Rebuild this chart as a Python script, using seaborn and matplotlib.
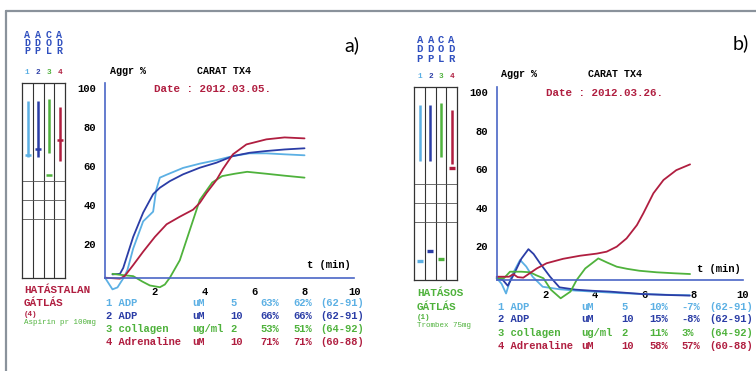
import numpy as np
import pandas as pd
import matplotlib
matplotlib.use("Agg")
import matplotlib.pyplot as plt
import seaborn as sns
from matplotlib.lines import Line2D
from matplotlib.transforms import ScaledTranslation

# ---------------- data ----------------
series = ["1 ADP 5", "2 ADP 10", "3 collagen", "4 Adrenaline"]
colors = ["#5cb0e4", "#2b3da6", "#4fb23c", "#b01e40"]

# panel a (2012.03.05) curves: time (min), aggregation (%)
a_t1 = [0, 0.3, 0.5, 0.75, 0.9, 1.13, 1.53, 1.93, 2.05, 2.2, 2.47, 3.13, 3.8, 4.47, 5.13, 5.8, 6.47, 7.2, 8.0]
a_v1 = [0, -6, -5, 0, 4, 15, 29, 34, 45, 51.5, 53, 56.5, 58.7, 60.5, 62.6, 64, 64, 63.5, 63]
a_t2 = [0.3, 0.6, 0.73, 1.13, 1.53, 1.93, 2.2, 2.6, 3.13, 3.8, 4.47, 5.13, 5.8, 6.47, 7.2, 8.0]
a_v2 = [1.7, 2, 5, 21, 33.5, 43, 46.3, 49.7, 53.2, 56.6, 59.2, 62.6, 64.3, 65.2, 66, 66.6]
a_t3 = [0.3, 0.6, 1.13, 1.5, 1.8, 2.2, 2.4, 2.6, 3.0, 3.4, 3.8, 4.3, 4.7, 5.2, 5.7, 6.47, 7.2, 8.0]
a_v3 = [2, 1.5, 0.8, -2, -4, -4.9, -3.5, 0, 9, 24.5, 40, 49, 52.3, 53.5, 54.5, 53.5, 52.5, 51.5]
a_t4 = [0, 0.6, 0.8, 1.13, 1.53, 2.0, 2.47, 3.0, 3.53, 3.8, 4.07, 4.47, 4.73, 5.13, 5.67, 6.47, 7.2, 8.0]
a_v4 = [0, -0.5, 1, 6.5, 13.4, 21, 27.5, 31.4, 35, 38.5, 43.6, 50.3, 56, 63.5, 68.6, 71.2, 72.2, 71.7]

# panel b (2012.03.26) curves
b_t1 = [0, 0.2, 0.38, 0.6, 0.95, 1.2, 1.46, 1.87, 2.55, 3.2, 3.9, 5.0, 6.0, 7.0, 7.85]
b_v1 = [1, -2, -7, 2, 10.4, 7, 1.7, -3.5, -4.8, -5.5, -6, -6.8, -7.3, -7.7, -7.9]
b_t2 = [0, 0.25, 0.45, 0.7, 1.0, 1.29, 1.5, 1.76, 2.17, 2.55, 3.2, 3.9, 4.57, 5.93, 7.0, 7.85]
b_v2 = [1, 0, -3, 3, 11, 16, 13.5, 8.7, 1.7, -3.8, -5, -5.6, -6, -7.3, -7.8, -8.1]
b_t3 = [0, 0.3, 0.54, 1.0, 1.36, 1.6, 1.9, 2.2, 2.6, 3.0, 3.25, 3.6, 4.13, 4.5, 4.88, 5.3, 5.8, 6.5, 7.2, 7.86]
b_v3 = [1, 1, 4.3, 4.3, 4, 2.5, 0.9, -5, -9.5, -6, 0, 6, 11.2, 9, 6.9, 5.8, 4.8, 4, 3.5, 3.1]
b_t4 = [0, 0.5, 0.68, 0.85, 1.08, 1.63, 2.03, 2.7, 3.39, 4.07, 4.47, 4.88, 5.28, 5.7, 5.96, 6.37, 6.78, 7.3, 7.86]
b_v4 = [1.7, 1.7, 3, 1.5, 1.2, 6, 8.7, 11, 12.6, 13.7, 14.7, 17.3, 21.6, 28.5, 34.6, 45, 51.9, 57, 60]

# reference ranges and results (side boxes)
range_lo = [62, 62, 64, 60]
range_hi = [91, 91, 92, 88]
marks_a = [63, 66, 53, 71]
marks_b = [10, 15, 11, 58]
box_rows = [30, 40, 50]

# result tables
tab_idx = ["1", "2", "3", "4"]
tab_agent = ["ADP", "ADP", "collagen", "Adrenaline"]
tab_unit = ["uM", "uM", "ug/ml", "uM"]
tab_conc = ["5", "10", "2", "10"]
a_max = ["63%", "66%", "53%", "71%"]
a_end = ["62%", "66%", "51%", "71%"]
b_max = ["10%", "15%", "11%", "58%"]
b_end = ["-7%", "-8%", "3%", "57%"]
ranges = ["(62-91)", "(62-91)", "(64-92)", "(60-88)"]

head_cols = ["ADP", "ADP", "COL", "ADR"]
xticks = list(range(0, 11))
xlabels = ["", "", "2", "", "4", "", "6", "", "8", "", "10"]
yticks = list(range(0, 101, 10))
ylabels = ["", "", "20", "", "40", "", "60", "", "80", "", "100"]

# ---------------- figure ----------------
sns.set_theme(style="white")
W, H = 756, 371
fig = plt.figure(figsize=(W / 100, H / 100), dpi=100)
fig.patch.set_facecolor("white")
MONO = ["Liberation Mono", "DejaVu Sans Mono"]
AXBLUE = "#4a66c6"
HEADBLUE = "#2f4fbf"


def fx(x):
    return x / W


def fy(y):
    return 1 - y / H


def txt(x, y, s, color="black", size=7.4, weight="bold", ha="left", family=MONO, ls=1.2):
    fig.text(fx(x), fy(y), s, color=color, fontsize=size, fontweight=weight,
             ha=ha, va="center", family=family, linespacing=ls)


# frame lines
fig.add_artist(Line2D([fx(6), fx(756)], [fy(11), fy(11)], color="#8a929b", lw=1.6))
fig.add_artist(Line2D([fx(6), fx(6)], [fy(11), fy(371)], color="#8a929b", lw=1.6))


def make_panel(X0, SX, Y0, SY, t_list, v_list, xpad):
    xl = (-0.5, 10.6)
    yl = (-12, 103)
    left = X0 + xl[0] * SX
    right = X0 + xl[1] * SX
    bottom = Y0 - yl[0] * SY
    top = Y0 - yl[1] * SY
    ax = fig.add_axes([fx(left), fy(bottom), (right - left) / W, (bottom - top) / H])
    ax.set_xlim(*xl)
    ax.set_ylim(*yl)
    ax.patch.set_alpha(0)
    frames = []
    for name, t, v in zip(series, t_list, v_list):
        frames.append(pd.DataFrame({"t": t, "v": v, "series": name}))
    df = pd.concat(frames, ignore_index=True)
    sns.lineplot(data=df, x="t", y="v", hue="series", palette=dict(zip(series, colors)),
                 sort=False, estimator=None, legend=False, lw=1.3, ax=ax)
    for s in ["top", "right"]:
        ax.spines[s].set_visible(False)
    for s in ["left", "bottom"]:
        ax.spines[s].set_position(("data", 0))
        ax.spines[s].set_color(AXBLUE)
        ax.spines[s].set_linewidth(1.2)
    ax.spines["left"].set_bounds(0, 100)
    ax.spines["bottom"].set_bounds(0, 10)
    ax.set_xticks(xticks)
    ax.set_xticklabels(xlabels)
    ax.set_yticks(yticks)
    ax.set_yticklabels(ylabels)
    ax.tick_params(direction="inout", length=7, width=1.1, color=AXBLUE,
                   labelsize=7.6, labelcolor="black")
    ax.tick_params(axis="y", pad=3)
    ax.tick_params(axis="x", pad=xpad)
    for lab in ax.get_xticklabels() + ax.get_yticklabels():
        lab.set_family(MONO)
        lab.set_fontweight("bold")
    off = ScaledTranslation(0, -0.05, fig.dpi_scale_trans)
    for lab in ax.get_yticklabels():
        lab.set_transform(lab.get_transform() + off)
    ax.set_xlabel("")
    ax.set_ylabel("")
    ax.grid(False)
    return ax


def make_box(xl_px, xr_px, Y0, SY, marks, thick):
    top = Y0 - 100 * SY
    bx = fig.add_axes([fx(xl_px), fy(Y0), (xr_px - xl_px) / W, (Y0 - top) / H])
    bx.set_xlim(0, 4)
    bx.set_ylim(0, 100)
    bx.set_xticks([])
    bx.set_yticks([])
    for s in bx.spines.values():
        s.set_color("#333333")
        s.set_linewidth(0.9)
    for c in [1, 2, 3]:
        bx.axvline(c, color="#333333", lw=0.8)
    for r in box_rows:
        bx.axhline(r, color="#555555", lw=0.6)
    xs = np.arange(4) + 0.5
    bx.vlines(xs, range_lo, range_hi, colors=colors, lw=1.8)
    bx.hlines(marks, xs - 0.27, xs + 0.27, colors=colors, lw=thick)
    return bx


# ---------------- panel a ----------------
axA = make_panel(105, 24.94, 277.7, 1.943, [a_t1, a_t2, a_t3, a_t4], [a_v1, a_v2, a_v3, a_v4], 3)
make_box(22.3, 65, 277.7, 1.943, marks_a, 1.8)

# ---------------- panel b ----------------
axB = make_panel(496.7, 24.6, 280, 1.927, [b_t1, b_t2, b_t3, b_t4], [b_v1, b_v2, b_v3, b_v4], 4)
make_box(414.3, 457, 280, 1.927, marks_b, 2.4)

# header letters (one stacked text per column)
a_colx = [27.3, 37.8, 48.7, 59.5]
b_colx = [419.8, 430.7, 441.0, 451.5]
for cx_a, cx_b, word, col, num in zip(a_colx, b_colx, head_cols, colors, tab_idx):
    stacked = "\n".join(word)
    txt(cx_a, 43.0, stacked, color=HEADBLUE, size=7.2, ha="center", ls=0.8)
    txt(cx_b, 49.5, stacked, color=HEADBLUE, size=7.6, ha="center", ls=0.92)
    txt(cx_a, 72.7, num, color=col, size=5.6, ha="center")
    txt(cx_b, 76, num, color=col, size=5.6, ha="center")

# titles
txt(110, 71, "Aggr %", size=7.2)
txt(197, 71, "CARAT TX4", size=7.2)
txt(154, 89, "Date : 2012.03.05.", color=colors[3], size=7.8)
txt(501, 74, "Aggr %", size=7.2)
txt(588, 74, "CARAT TX4", size=7.2)
txt(546, 93, "Date : 2012.03.26.", color=colors[3], size=7.8)

txt(344, 45, "a)", size=14, weight="normal", family=["Lato", "DejaVu Sans"])
txt(733, 43, "b)", size=14, weight="normal", family=["Lato", "DejaVu Sans"])

txt(307, 265, "t (min)", size=7.6)
txt(697, 269, "t (min)", size=7.6)

# side labels
txt(24, 290, "HATÁSTALAN", color=colors[3], size=7.9)
txt(24, 303, "GÁTLÁS", color=colors[3], size=7.9)
txt(24, 315, "(4)", color=colors[3], size=5.4)
txt(24, 322.7, "Aspirin pr 100mg", color=colors[2], size=5.4, weight="normal")
txt(417, 293, "HATÁSOS", color=colors[2], size=7.9)
txt(417, 306.7, "GÁTLÁS", color=colors[2], size=7.9)
txt(417, 317.3, "(1)", color=colors[2], size=5.4)
txt(417, 325.7, "Trombex 75mg", color=colors[2], size=5.4, weight="normal")

# result tables
a_rows = [303.3, 316, 329, 342.3]
b_rows = [306.7, 319.3, 332.7, 345.7]
for i in range(4):
    c = colors[i]
    y = a_rows[i]
    txt(106, y, tab_idx[i] + " " + tab_agent[i], color=c, size=7.6)
    txt(192, y, tab_unit[i], color=c, size=7.6)
    txt(230, y, tab_conc[i], color=c, size=7.6)
    txt(260, y, a_max[i], color=c, size=7.6)
    txt(293, y, a_end[i], color=c, size=7.6)
    txt(320, y, ranges[i], color=c, size=7.6)
    y = b_rows[i]
    txt(497.7, y, tab_idx[i] + " " + tab_agent[i], color=c, size=7.6)
    txt(581, y, tab_unit[i], color=c, size=7.6)
    txt(621, y, tab_conc[i], color=c, size=7.6)
    txt(649, y, b_max[i], color=c, size=7.6)
    txt(681, y, b_end[i], color=c, size=7.6)
    txt(709, y, ranges[i], color=c, size=7.6)

fig.savefig("out.png", dpi=100, facecolor="white")
